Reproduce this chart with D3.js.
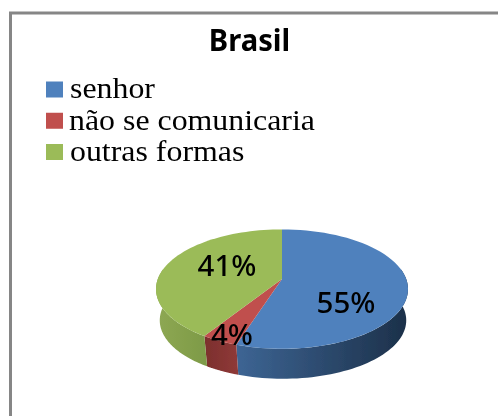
<!DOCTYPE html>
<html><head><meta charset="utf-8">
<script src="https://cdnjs.cloudflare.com/ajax/libs/d3/7.8.5/d3.min.js"></script>
<style>html,body{margin:0;padding:0;background:#fff}svg{display:block}</style>
</head><body><div id="c"></div>
<script>
const title = "Brasil";
const categories = ["senhor", "não se comunicaria", "outras formas"];
const values = [55, 4, 41];
const colors = ["#4f81bd", "#c0504d", "#9bbb59"];
const sideLight = ["#3d6594", "#8f3a38", "#7d9a47"];
const sideDark = ["#1c3049", "#7c2f2d", "#8ea853"];

const W = 498, H = 416;
const svg = d3.select("#c").append("svg").attr("width", W).attr("height", H);
const defs = svg.append("defs");
defs.append("filter").attr("id","soft").append("feGaussianBlur").attr("stdDeviation",0.4);

svg.append("path").attr("d", `M${W+3},13H10.5V${H+3}`).attr("fill","none")
  .attr("stroke","#868686").attr("stroke-width",3);

svg.append("text").text(title)
  .attr("transform","translate(249.5,51) scale(0.94,1)")
  .attr("text-anchor","middle").attr("font-family","'Noto Sans',sans-serif")
  .attr("font-weight",700).attr("font-size",31).attr("fill","#000").attr("filter","url(#soft)");

const legend = svg.append("g").attr("filter","url(#soft)");
const legendY = d3.scalePoint().domain(categories).range([89.5,152]);
categories.forEach((c,i)=>{
  legend.append("rect").attr("x",46).attr("y",legendY(c)-8).attr("width",17).attr("height",16).attr("fill",colors[i]);
  legend.append("text").text(c)
    .attr("transform",`translate(${i===1?69:70},${legendY(c)+8.8}) scale(1.045,1)`)
    .attr("font-family","'Liberation Serif',serif").attr("font-size",30.5).attr("fill","#000");
});

// Pie in perspective
const cx = 282, cy = 279, kx = 124.2, ky = 58, d = 0.169, depth = 31.5, baseScale = 0.978;
const arcs = d3.pie().value(v=>v).sort(null)(values);
const proj = (a, s=1, dy=0, dx=0) => {
  const X = Math.sin(a), Y = Math.cos(a), w = 1 + d*Y;
  return [cx + dx + s*kx*X/w, cy + dy - s*ky*Y/w];
};
const sample = (a0,a1,f)=> d3.range(0,61).map(i=>f(a0+(a1-a0)*i/60));
const line = d3.line();
const pie = svg.append("g").attr("filter","url(#soft)");

// Sides: only the front part (screen-lower half) is visible
const frontStart = Math.PI/2 - 0.17, frontEnd = 3*Math.PI/2 + 0.17;
arcs.forEach((s,i)=>{
  const a0 = Math.max(s.startAngle, frontStart), a1 = Math.min(s.endAngle, frontEnd);
  if (a1 <= a0) return;
  const top = sample(a0,a1,a=>proj(a));
  const bot = sample(a0,a1,a=>proj(a,baseScale,depth,1)).reverse();
  const gid = "side"+i;
  const xs = top.concat(bot).map(p=>p[0]);
  const g = defs.append("linearGradient").attr("id",gid).attr("gradientUnits","userSpaceOnUse")
    .attr("x1",d3.min(xs)).attr("x2",d3.max(xs)).attr("y1",0).attr("y2",0);
  g.append("stop").attr("offset",0).attr("stop-color", i===0?sideLight[i]:sideDark[i]);
  g.append("stop").attr("offset",1).attr("stop-color", i===0?sideDark[i]:sideLight[i]);
  pie.append("path").attr("d", line(top.concat(bot))+"Z").attr("fill",`url(#${gid})`);
});
// Top faces
arcs.forEach((s,i)=>{
  const pts = [[cx,cy]].concat(sample(s.startAngle,s.endAngle,a=>proj(a)));
  pie.append("path").attr("d", line(pts)+"Z").attr("fill",colors[i]);
});

// Data labels
const labelPos = [[346,313],[232,345],[227,276]];
arcs.forEach((s,i)=>{
  svg.append("text").text(values[i]+"%").attr("x",labelPos[i][0]).attr("y",labelPos[i][1])
    .attr("text-anchor","middle").attr("font-family","'Noto Sans',sans-serif")
    .attr("font-weight",500).attr("font-size",29.5).attr("fill","#000").attr("filter","url(#soft)");
});
</script></body></html>
